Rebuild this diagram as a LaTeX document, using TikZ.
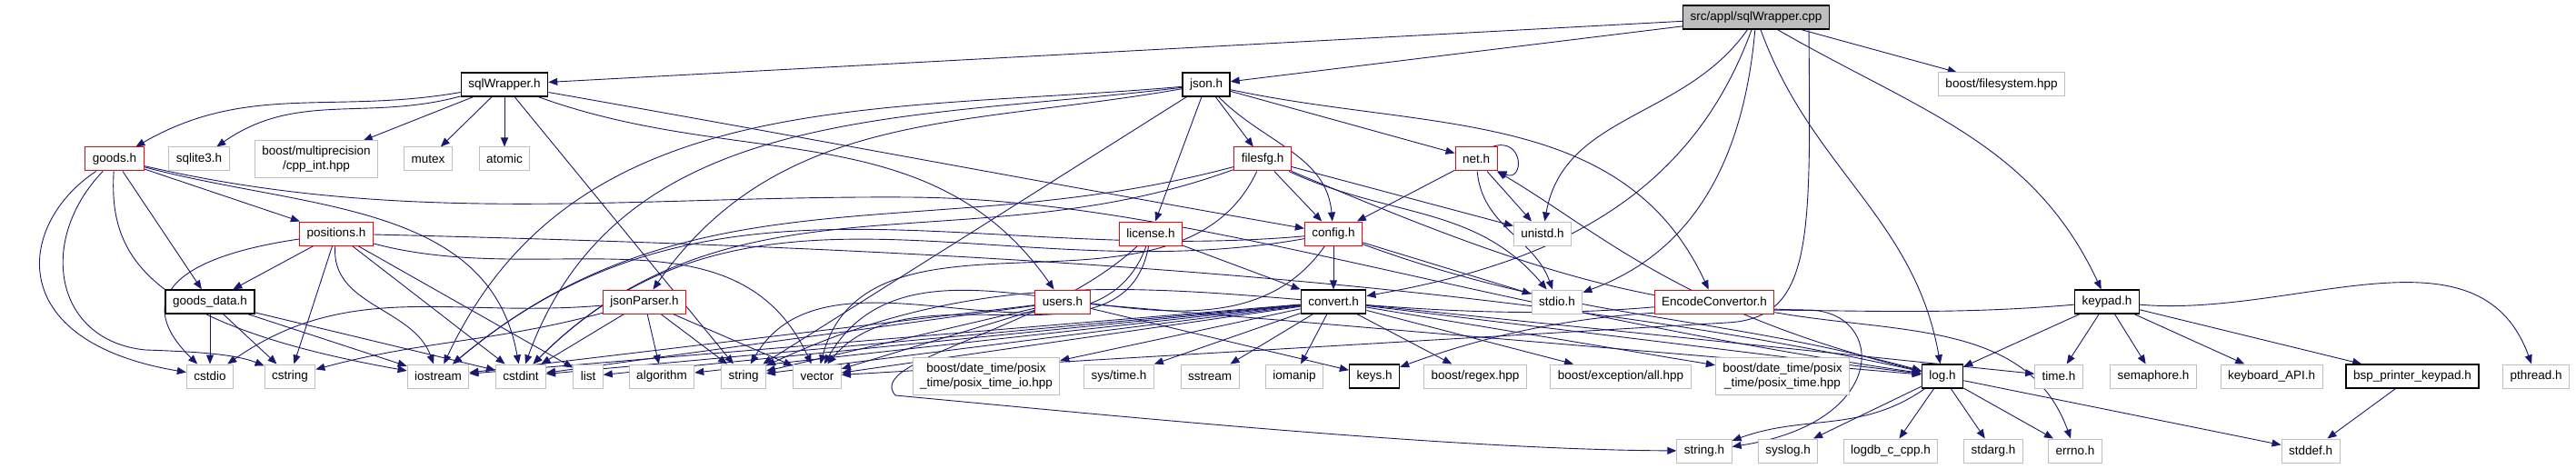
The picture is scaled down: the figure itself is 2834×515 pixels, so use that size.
\documentclass[tikz,border=0pt]{standalone}
\usepackage{fontspec}
\setmainfont{Liberation Sans}
\usetikzlibrary{arrows.meta,backgrounds}

\definecolor{edgeblue}{HTML}{191970}
\definecolor{sysgray}{HTML}{BFBFBF}

\begin{document}
\begin{tikzpicture}[
  x=1pt, y=1pt,
  every node/.style={draw, fill=white, line width=1pt, inner xsep=8pt, inner ysep=0pt,
    minimum height=26pt, align=center, font=\fontsize{13.5}{15.5}\selectfont},
  sysfile/.style={draw=sysgray},
  cutfile/.style={draw=red},
  docfile/.style={draw=black, line width=1.3pt},
  rootfile/.style={draw=black, line width=1.3pt, fill=sysgray},
  dep/.style={draw=edgeblue, line width=0.9pt, -{Triangle[length=10pt,width=8pt]}}]
\useasboundingbox (0,0) rectangle (2834,515);

% top rows
\node[rootfile] (cpp) at (1932,496) {src/appl/sqlWrapper.cpp};
\node[docfile] (sqlw) at (555,422) {sqlWrapper.h};
\node[docfile] (json) at (1327,422) {json.h};
\node[sysfile] (bfs) at (2202,422) {boost/filesystem.hpp};

\node[cutfile] (goods) at (126,340) {goods.h};
\node[sysfile] (sqlite) at (219,340) {sqlite3.h};
\node[sysfile, minimum height=40pt] (bmp) at (348,340) {boost/multiprecision\\/cpp\_int.hpp};
\node[sysfile] (mutex) at (471,340) {mutex};
\node[sysfile] (atomic) at (555,340) {atomic};
\node[cutfile] (filesfg) at (1389,340) {filesfg.h};
\node[cutfile] (net) at (1624,340) {net.h};

\node[cutfile] (positions) at (370,258) {positions.h};
\node[cutfile] (license) at (1266,258) {license.h};
\node[cutfile] (config) at (1467,258) {config.h};
\node[sysfile] (unistd) at (1697,258) {unistd.h};

\node[docfile] (gdata) at (231,183) {goods\_data.h};
\node[cutfile] (jparser) at (709,183) {jsonParser.h};
\node[cutfile] (users) at (1169,183) {users.h};
\node[docfile] (convert) at (1467,183) {convert.h};
\node[sysfile] (stdioh) at (1713,183) {stdio.h};
\node[cutfile] (encconv) at (1886,183) {EncodeConvertor.h};
\node[docfile] (keypad) at (2318,183) {keypad.h};

% bottom rows
\node[sysfile] (cstdio) at (231,101) {cstdio};
\node[sysfile] (cstring) at (319,101) {cstring};
\node[sysfile] (iostream) at (482,101) {iostream};
\node[sysfile] (cstdint) at (573,101) {cstdint};
\node[sysfile] (list) at (647,101) {list};
\node[sysfile] (algorithm) at (728,101) {algorithm};
\node[sysfile] (string) at (818,101) {string};
\node[sysfile] (vector) at (899,101) {vector};
\node[sysfile, minimum height=41pt] (bdtio) at (1085,101) {boost/date\_time/posix\\\_time/posix\_time\_io.hpp};
\node[sysfile] (systime) at (1231,101) {sys/time.h};
\node[sysfile] (sstream) at (1331,101) {sstream};
\node[sysfile] (iomanip) at (1424,101) {iomanip};
\node[docfile] (keys) at (1512,101) {keys.h};
\node[sysfile] (bregex) at (1623,101) {boost/regex.hpp};
\node[sysfile] (bexc) at (1783,101) {boost/exception/all.hpp};
\node[sysfile, minimum height=41pt] (bdt) at (1961,101) {boost/date\_time/posix\\\_time/posix\_time.hpp};
\node[docfile] (log) at (2137,101) {log.h};
\node[sysfile] (timeh) at (2265,101) {time.h};
\node[sysfile] (sema) at (2369,101) {semaphore.h};
\node[sysfile] (kbapi) at (2499,101) {keyboard\_API.h};
\node[docfile] (bsp) at (2654,101) {bsp\_printer\_keypad.h};
\node[sysfile] (pthread) at (2790,101) {pthread.h};

\node[sysfile] (stringh) at (1875,19) {string.h};
\node[sysfile] (syslog) at (1967,19) {syslog.h};
\node[sysfile] (logdb) at (2080,19) {logdb\_c\_cpp.h};
\node[sysfile] (stdarg) at (2193,19) {stdarg.h};
\node[sysfile] (errno) at (2283,19) {errno.h};
\node[sysfile] (stddef) at (2542,19) {stddef.h};

\begin{pgfonlayer}{background}
% sqlWrapper.cpp
\draw[dep] (cpp) -- (sqlw);
\draw[dep] (cpp) -- (json);
\draw[dep] (cpp) -- (bfs);
\draw[dep] (cpp) to[out=235,in=80] (unistd);
\draw[dep] (cpp) to[out=250,in=10] (convert);
\draw[dep] (cpp) to[out=265,in=20] (stdioh);
\draw[dep] ([xshift=58pt]cpp.south) .. controls (1992,250) and (1995,165) .. (1900,160) -- (vector);
\draw[dep] (cpp) to[out=-70,in=100] (log);
\draw[dep] (cpp) to[out=-30,in=115] (keypad);

% sqlWrapper.h
\draw[dep] (sqlw) to[out=190,in=30] (goods);
\draw[dep] (sqlw) to[out=195,in=35] (sqlite);
\draw[dep] (sqlw) -- (bmp);
\draw[dep] (sqlw) -- (mutex);
\draw[dep] (sqlw) -- (atomic);
\draw[dep] (sqlw) -- (string);
\draw[dep] (sqlw) to[out=-20,in=125] (users);
\draw[dep] (sqlw) to[out=-10,in=170] (config);

% json.h
\draw[dep] (json) to[out=190,in=55] (jparser);
\draw[dep] (json) to[out=185,in=65] (iostream);
\draw[dep] (json) to[out=187,in=70] (cstdint);
\draw[dep] (json) -- (string);
\draw[dep] (json) -- (license);
\draw[dep] (json) -- (filesfg);
\draw[dep] (json) to[out=-45,in=95] (config);
\draw[dep] (json) -- (net);
\draw[dep] (json) to[out=-12,in=115] (encconv);

% net.h
\draw[dep] (net) -- (config);
\draw[dep] (net) -- (unistd);
\draw[dep] (net) to[out=-85,in=110] (stdioh);
\draw[dep] ([xshift=-6pt]net.north east) .. controls +(35,12) and +(30,-12) .. (net.south east);

% filesfg.h
\draw[dep] (filesfg) -- (config);
\draw[dep] (filesfg) -- (unistd);
\draw[dep] (filesfg) to[out=-25,in=130] (stdioh);
\draw[dep] (filesfg) to[out=195,in=40] (iostream);
\draw[dep] (filesfg) to[out=200,in=45] (cstdint);
\draw[dep] (filesfg) to[out=245,in=75] (vector);
\draw[dep] (filesfg) .. controls (1650,230) and (1800,175) .. (1990,174) .. controls (2075,172) and (2080,50) .. (stringh);

% goods.h
\draw[dep] (goods) .. controls (20,270) and (0,140) .. (cstdio);
\draw[dep] (goods) .. controls (40,250) and (60,140) .. (160,130) .. controls (220,128) and (260,125) .. (cstring);
\draw[dep] (goods) .. controls (120,240) and (150,160) .. (iostream);
\draw[dep] (goods) -- (gdata);
\draw[dep] (goods) -- (positions);
\draw[dep] (goods) to[out=-15,in=100] (cstdint);
\draw[dep] (goods) .. controls (450,265) and (700,300) .. (1000,298) .. controls (1300,296) and (1600,180) .. (log);

% positions.h
\draw[dep] (positions) .. controls (180,230) and (150,180) .. (cstdio);
\draw[dep] (positions) -- (gdata);
\draw[dep] (positions) -- (cstring);
\draw[dep] (positions) to[out=265,in=110] (iostream);
\draw[dep] (positions) -- (cstdint);
\draw[dep] (positions) -- (list);
\draw[dep] (positions) to[out=-15,in=115] (vector);
\draw[dep] (positions) .. controls (900,245) and (1600,220) .. (log);

% goods_data.h
\draw[dep] (gdata) -- (cstdio);
\draw[dep] (gdata) -- (cstring);
\draw[dep] (gdata) -- (iostream);
\draw[dep] (gdata) -- (cstdint);

% jsonParser.h
\draw[dep] (jparser) to[out=185,in=35] (cstdio);
\draw[dep] (jparser) to[out=195,in=15] (cstring);
\draw[dep] (jparser) -- (cstdint);
\draw[dep] (jparser) -- (algorithm);
\draw[dep] (jparser) -- (string);
\draw[dep] (jparser) -- (vector);

% users.h
\draw[dep] (users) -- (iostream);
\draw[dep] (users) -- (cstdint);
\draw[dep] (users) -- (string);
\draw[dep] (users) -- (vector);
\draw[dep] (users) -- (keys);
\draw[dep] (users) -- (log);

% license.h
\draw[dep] (license) -- (convert);
\draw[dep] (license) to[out=250,in=60] (string);
\draw[dep] (license) to[out=260,in=50] (vector);
\draw[dep] (license) .. controls (1150,150) and (950,120) .. (985,80) .. controls (1200,60) and (1600,20) .. (stringh);

% config.h
\draw[dep] (config) -- (convert);
\draw[dep] (config) -- (stdioh);
\draw[dep] (config) to[out=-20,in=165] (log);
\draw[dep] (config) to[out=185,in=40] (iostream);
\draw[dep] (config) to[out=190,in=45] (cstdint);
\draw[dep] (config) to[out=235,in=60] (vector);

% convert.h
\foreach \dst in {iostream,cstdint,list,algorithm,string,vector,bdtio,systime,sstream,iomanip,bregex,bexc,bdt,log,timeh}
  \draw[dep] (convert) -- (\dst);

% EncodeConvertor.h
\draw[dep] (encconv) to[out=185,in=25] (string);
\draw[dep] (encconv) to[out=-10,in=110] (errno);

% keypad.h
\draw[dep] (keypad) to[out=185,in=20] (keys);
\foreach \dst in {log,timeh,sema,kbapi,bsp}
  \draw[dep] (keypad) -- (\dst);
\draw[dep] (keypad) to[out=-5,in=110] (pthread);
\draw[dep] (bsp) -- (stddef);

% log.h
\draw[dep] (log) to[out=215,in=20] (stringh);
\foreach \dst in {syslog,logdb,stdarg,errno,stddef}
  \draw[dep] (log) -- (\dst);
\draw[dep] (log) .. controls (1850,170) and (1760,260) .. (net);
\end{pgfonlayer}
\end{tikzpicture}
\end{document}
